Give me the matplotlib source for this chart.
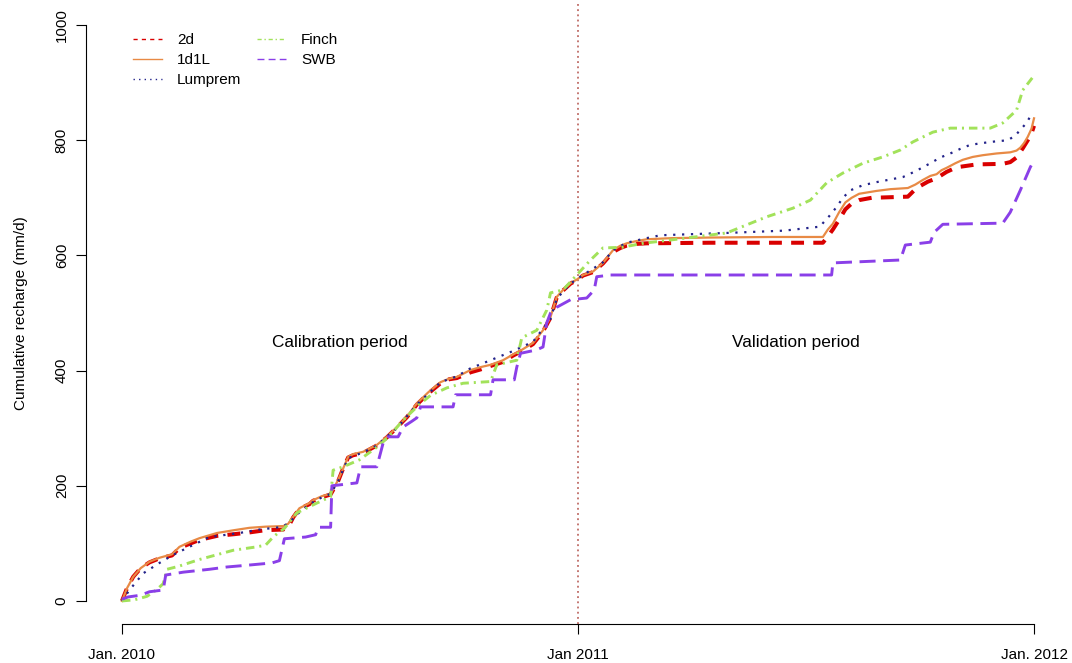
import matplotlib
matplotlib.use("Agg")
import matplotlib.pyplot as plt
from matplotlib.lines import Line2D

plt.rcParams['font.family'] = ['Liberation Sans', 'DejaVu Sans']

# cumulative recharge (mm) against days since 1 Jan 2010
days_2d = [0, 4, 9, 15, 22, 30, 40, 46, 55, 62, 76, 90, 102, 115, 129, 133, 137, 142,
           150, 153, 160, 167, 173, 177, 181, 185, 193, 204, 212, 220, 228, 236, 245,
           255, 262, 268, 279, 287, 295, 305, 313, 320, 329, 337, 343, 348, 353, 359,
           364, 369, 377, 385, 393, 399, 404, 412, 420, 470, 561, 565, 569, 574, 579,
           584, 590, 600, 629, 636, 645, 652, 660, 668, 684, 705, 711, 716, 721, 725,
           728, 730]
rech_2d = [0, 22, 42, 57, 67, 74, 79, 92, 100, 106, 113, 116, 119, 123, 124, 128, 145,
           160, 168, 174, 180, 185, 208, 230, 249, 253, 257, 270, 284, 301, 319, 341,
           360, 378, 385, 387, 397, 402, 408, 415, 426, 434, 446, 468, 492, 527, 539,
           551, 557, 565, 571, 586, 606, 613, 617, 620, 621, 622, 622, 633, 645, 662,
           680, 690, 696, 700, 702, 717, 728, 734, 745, 753, 758, 759, 762, 770, 786,
           800, 812, 825]

days_1d1l = [0, 4, 9, 15, 22, 30, 40, 46, 55, 62, 76, 90, 102, 115, 129, 133, 137, 142,
             150, 153, 160, 167, 173, 177, 181, 185, 193, 204, 212, 220, 228, 236, 245,
             255, 262, 268, 279, 287, 295, 305, 313, 320, 329, 337, 343, 348, 353, 359,
             364, 369, 377, 385, 393, 399, 404, 412, 420, 440, 470, 520, 561, 565, 569,
             574, 579, 584, 590, 604, 615, 629, 635, 641, 647, 652, 656, 660, 667, 673,
             681, 689, 700, 711, 716, 719, 722, 725, 728, 730]
rech_1d1l = [0, 22, 42, 57, 68, 75, 81, 94, 103, 109, 118, 123, 127, 129, 130, 134, 146,
             161, 170, 175, 182, 186, 210, 230, 250, 255, 259, 271, 285, 302, 320, 343,
             362, 380, 386, 389, 401, 406, 410, 418, 428, 436, 448, 470, 493, 528, 540,
             552, 558, 566, 572, 587, 609, 617, 621, 625, 628, 630, 631, 632, 632, 645,
             655, 675, 692, 700, 707, 712, 715, 717, 723, 731, 738, 741, 748, 752, 760,
             766, 771, 774, 777, 779, 782, 787, 795, 806, 820, 838]

days_lumprem = [0, 6, 17, 30, 41, 52, 70, 94, 110, 126, 133, 140, 150, 160, 167, 173,
                181, 193, 204, 220, 236, 255, 268, 279, 295, 313, 329, 343, 348, 359, 369,
                385, 393, 404, 420, 431, 484, 530, 559, 561, 566, 572, 577, 583, 592, 601,
                613, 625, 635, 647, 655, 663, 671, 679, 695, 709, 715, 719, 724, 729]
rech_lumprem = [0, 19, 48, 66, 80, 92, 111, 118, 124, 128, 134, 150, 168, 180, 186, 208,
                248, 258, 270, 300, 341, 380, 390, 404, 418, 434, 450, 490, 525, 551, 566,
                588, 609, 622, 630, 635, 639, 643, 650, 656, 668, 684, 700, 713, 721, 726,
                731, 736, 746, 760, 770, 777, 785, 792, 797, 800, 808, 818, 830, 849]

days_finch = [0, 10, 20, 28, 33, 36, 45, 62, 89, 108, 115, 121, 126, 130, 140, 156, 167,
              169, 177, 190, 204, 214, 225, 239, 247, 260, 273, 295, 300, 316, 320, 332,
              340, 343, 353, 364, 375, 385, 400, 417, 440, 484, 500, 516, 537, 551, 564,
              577, 593, 609, 623, 633, 649, 663, 695, 705, 716, 721, 731]
rech_finch = [0, 2, 8, 20, 30, 55, 60, 72, 88, 94, 97, 111, 120, 126, 153, 170, 181, 227,
              233, 245, 267, 286, 314, 343, 357, 370, 378, 381, 410, 418, 457, 470, 505,
              535, 540, 566, 592, 613, 614, 621, 627, 639, 653, 667, 682, 696, 726, 743,
              760, 771, 783, 797, 814, 821, 821, 830, 852, 887, 915]

days_swb = [0, 5, 15, 22, 33, 35, 49, 70, 84, 100, 120, 126, 130, 147, 155, 157, 167, 168,
            188, 191, 204, 209, 213, 221, 225, 232, 236, 239, 265, 267, 295, 297, 314, 316,
            319, 332, 337, 340, 343, 348, 359, 372, 378, 380, 391, 568, 569, 623, 627, 647,
            650, 657, 705, 711, 719, 727, 730]
rech_swb = [3, 7, 10, 16, 19, 45, 50, 55, 59, 62, 66, 70, 108, 111, 115, 128, 128, 200,
            205, 233, 233, 274, 285, 285, 302, 312, 318, 337, 337, 358, 358, 384, 384, 406,
            430, 436, 441, 483, 500, 510, 523, 526, 540, 563, 566, 566, 587, 592, 618, 623,
            640, 654, 656, 675, 713, 753, 765]

tick_days = [0, 365, 730]
tick_labels = ['Jan. 2010', 'Jan 2011', 'Jan. 2012']

c_2d = '#D90000'
c_1d1l = '#E88A45'
c_lump = '#23238A'
c_finch = '#A2E25A'
c_swb = '#8A3FE8'

fig = plt.figure(figsize=(10.72, 6.63), dpi=100)
ax = fig.add_axes([85.5 / 1072, 39 / 663, 985 / 1072, 622 / 663])

ax.axvline(365, color='#B4524C', lw=1.1, ls=(0, (1.2, 2.2)))

ax.plot(days_2d, rech_2d, color=c_2d, lw=2.9, ls=(0, (3.2, 2.3)))
ax.plot(days_1d1l, rech_1d1l, color=c_1d1l, lw=1.6)
ax.plot(days_lumprem, rech_lumprem, color=c_lump, lw=1.6, ls=(0, (1, 3)))
ax.plot(days_finch, rech_finch, color=c_finch, lw=2.1, ls=(0, (2.9, 1.7, 0.7, 1.7)))
ax.plot(days_swb, rech_swb, color=c_swb, lw=2.1, ls=(0, (5.5, 2.6)))

ax.text(174.5, 448, 'Calibration period', ha='center', va='center', fontsize=12.4)
ax.text(539, 448, 'Validation period', ha='center', va='center', fontsize=12.4)

ax.set_xlim(-29.2, 759.2)
ax.set_ylim(-40, 1040)
for s in ['top', 'right']:
    ax.spines[s].set_visible(False)
ax.spines['left'].set_bounds(0, 1000)
ax.spines['bottom'].set_bounds(0, 730)
ax.spines['left'].set_linewidth(0.8)
ax.spines['bottom'].set_linewidth(0.8)

ax.set_xticks(tick_days)
ax.set_xticklabels(tick_labels, fontsize=11)
ax.set_yticks(range(0, 1001, 200))
ax.set_yticklabels([str(v) for v in range(0, 1001, 200)], fontsize=10.8,
                   rotation=90, va='center')
ax.tick_params(axis='both', direction='out', length=7, width=0.8)
ax.tick_params(axis='x', pad=10)
ax.tick_params(axis='y', pad=5)
ax.set_ylabel('Cumulative recharge (mm/d)', fontsize=11)
ax.yaxis.set_label_coords(-0.058, 0.5)

handles = [
    Line2D([], [], color=c_2d, lw=1, ls=(0, (3, 3))),
    Line2D([], [], color=c_1d1l, lw=1),
    Line2D([], [], color=c_lump, lw=1, ls=(0, (1, 3))),
    Line2D([], [], color=c_finch, lw=1, ls=(0, (3, 2, 1, 2))),
    Line2D([], [], color=c_swb, lw=1, ls=(0, (5, 3))),
]
labels = ['2d', '1d1L', 'Lumprem', 'Finch', 'SWB']
ax.legend(handles, labels, loc='upper left', bbox_to_anchor=(0.048, 0.950), ncol=2,
          frameon=False, fontsize=11, borderpad=0, borderaxespad=0,
          handlelength=1.9, handletextpad=1.0, columnspacing=1.0, labelspacing=0.4)

fig.savefig('out.png', dpi=100)
